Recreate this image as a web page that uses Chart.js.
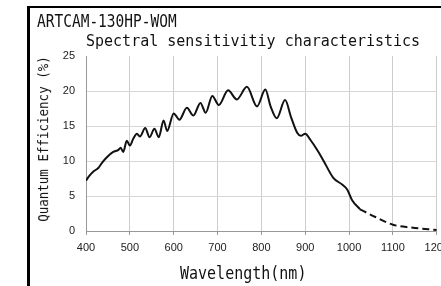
<!DOCTYPE html>
<html>
<head>
<meta charset="utf-8">
<script src="https://cdn.jsdelivr.net/npm/chart.js@4/dist/chart.umd.min.js"></script>
<style>
  html, body { margin: 0; padding: 0; background: #fff; }
  body { width: 441px; height: 286px; overflow: hidden; position: relative; }
  #frame { position: absolute; left: 27px; top: 6px; right: 0; bottom: 0;
           border-left: 3px solid #000; border-top: 2px solid #000; }
  canvas { position: absolute; left: 0; top: 0; }
  .lbl { position: absolute; font-family: "DejaVu Sans Mono", monospace; color: #111;
         line-height: 1; white-space: pre; }
  #model { left: 37px; top: 15px; font-size: 14.5px; transform: scaleY(1.2); transform-origin: 0 12.3px; }
  #title { left: 86px; top: 34px; font-size: 15px; transform: scaleY(1.1); transform-origin: 0 12.7px; }
  #xtitle { left: 180px; top: 267px; font-size: 15px; transform: scaleY(1.15); transform-origin: 0 12.7px; }
  #ytitle { left: -40px; top: 132px; width: 170px; height: 14px; text-align: center; font-size: 12.5px;
            transform: rotate(-90deg) scaleY(1.1); transform-origin: 50% 50%; }
</style>
</head>
<body>
<div id="frame"></div>
<canvas id="qe" width="455" height="286"></canvas>
<div class="lbl" id="model">ARTCAM-130HP-WOM</div>
<div class="lbl" id="title">Spectral sensitivitiy characteristics</div>
<div class="lbl" id="xtitle">Wavelength(nm)</div>
<div class="lbl" id="ytitle">Quantum Efficiency (%)</div>
<script>
// measured part of the curve (solid)
const waveSolid = [400, 408, 417, 428, 436, 447, 462, 474, 479, 485, 493, 500, 508, 516, 523, 535, 545, 556, 566,
  577, 585, 600, 613, 630, 645, 661, 673, 688, 703, 724, 744, 767, 790, 809, 821, 835, 854, 868, 882, 890,
  900, 912, 927, 942, 964, 985, 996, 1007, 1025];
const qeSolid = [7.2, 7.9, 8.5, 9.0, 9.7, 10.5, 11.3, 11.6, 11.9, 11.3, 12.9, 12.2, 13.2, 13.9, 13.5, 14.7, 13.4, 14.6, 13.4,
  15.8, 14.3, 16.8, 15.9, 17.6, 16.5, 18.3, 16.9, 19.3, 18.0, 20.1, 18.8, 20.6, 17.8, 20.2, 17.8, 16.1, 18.7, 16.2, 14.0, 13.6,
  13.9, 13.0, 11.6, 10.0, 7.6, 6.6, 5.9, 4.4, 3.1];

// extrapolated tail (dashed)
const waveDash = [1025, 1060, 1100, 1140, 1200];
const qeDash = [3.1, 2.0, 0.9, 0.5, 0.15];

const xTicks = [400, 500, 600, 700, 800, 900, 1000, 1100, 1200];
const yTicks = [0, 5, 10, 15, 20, 25];

const toPoints = (xs, ys) => xs.map((x, i) => ({ x: x, y: ys[i] }));

const tickFont = { family: '"Liberation Sans Narrow", "Liberation Sans", Arial, sans-serif', size: 11 };

new Chart(document.getElementById('qe').getContext('2d'), {
  type: 'line',
  data: {
    datasets: [
      {
        data: toPoints(waveSolid, qeSolid),
        borderColor: '#111',
        borderWidth: 2,
        pointRadius: 0,
        cubicInterpolationMode: 'monotone'
      },
      {
        data: toPoints(waveDash, qeDash),
        borderColor: '#111',
        borderWidth: 2,
        borderDash: [7, 4],
        pointRadius: 0,
        cubicInterpolationMode: 'monotone'
      }
    ]
  },
  options: {
    responsive: false,
    devicePixelRatio: 1,
    animation: false,
    layout: { padding: { top: 56, left: 0, right: 0, bottom: 0 } },
    plugins: { legend: { display: false }, tooltip: { enabled: false } },
    scales: {
      x: {
        type: 'linear',
        min: xTicks[0],
        max: xTicks[xTicks.length - 1],
        afterBuildTicks: (scale) => { scale.ticks = xTicks.map(v => ({ value: v })); },
        ticks: { font: tickFont, color: '#222', padding: 6, maxRotation: 0, callback: (v) => String(v) },
        grid: { color: '#cdcdcd', tickLength: 4, tickColor: '#999' },
        border: { color: '#999' },
        afterFit: (scale) => { scale.height = 55; }
      },
      y: {
        min: yTicks[0],
        max: yTicks[yTicks.length - 1],
        afterBuildTicks: (scale) => { scale.ticks = yTicks.map(v => ({ value: v })); },
        ticks: { font: tickFont, color: '#222', padding: 11 },
        grid: {
          drawTicks: false,
          color: (ctx) => (ctx.tick && ctx.tick.value === 25 ? 'rgba(0,0,0,0)' : '#d6d6d6')
        },
        border: { color: '#999' },
        afterFit: (scale) => { scale.width = 86; }
      }
    }
  }
});
</script>
</body>
</html>
